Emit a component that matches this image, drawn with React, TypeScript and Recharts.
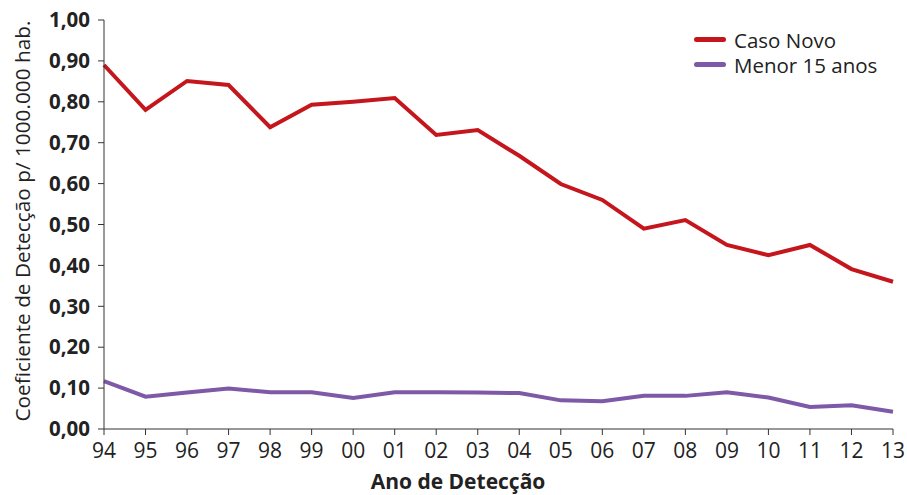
import { LineChart, Line, XAxis, YAxis } from 'recharts';

const YEARS = ['94', '95', '96', '97', '98', '99', '00', '01', '02', '03', '04', '05', '06', '07', '08', '09', '10', '11', '12', '13'];
const CASO_NOVO = [0.89, 0.78, 0.851, 0.841, 0.738, 0.793, 0.80, 0.809, 0.719, 0.731, 0.668, 0.599, 0.56, 0.49, 0.511, 0.45, 0.425, 0.45, 0.391, 0.36];
const MENOR_15 = [0.117, 0.079, 0.089, 0.099, 0.09, 0.09, 0.076, 0.09, 0.09, 0.089, 0.088, 0.07, 0.068, 0.081, 0.081, 0.09, 0.077, 0.054, 0.058, 0.042];
const Y_TICKS = [0, 0.1, 0.2, 0.3, 0.4, 0.5, 0.6, 0.7, 0.8, 0.9, 1.0];

const RED = '#c4161c';
const PURPLE = '#7d59a8';
const FONT = '"Open Sans", "Noto Sans", sans-serif';

const data = YEARS.map((year, i) => ({
  year,
  casoNovo: CASO_NOVO[i],
  menor15: MENOR_15[i]
}));

const SERIES = [
  { key: 'casoNovo', name: 'Caso Novo', color: RED },
  { key: 'menor15', name: 'Menor 15 anos', color: PURPLE }
];

// axis titles drawn by hand so they sit where the reference has them
const YTitle = () => (
  <text x={22} y={221} transform="rotate(-90 22 221)" textAnchor="middle" dominantBaseline="central"
    fill="#222" fontSize={20.8} fontFamily={FONT}>
    Coeficiente de Detecção p/ 1000.000 hab.
  </text>
);

const XTitle = () => (
  <text x={458} y={481} textAnchor="middle" dominantBaseline="central"
    fill="#222" fontSize={21} fontWeight={700} fontFamily={FONT}>
    Ano de Detecção
  </text>
);

export default function App() {
  // fixed to the viewport so the page never grows a scrollbar
  return (
    <div style={{ position: 'fixed', left: 0, top: 0, width: 907, height: 495, fontFamily: FONT, background: '#fff' }}>
      <LineChart width={907} height={495} data={data} margin={{ top: 20, right: 14, left: 0, bottom: 0 }}>
        <XAxis
          dataKey="year"
          interval={0}
          height={66}
          stroke="#333"
          tickSize={6}
          tickMargin={8}
          tick={{ fill: '#222', fontSize: 21, fontFamily: FONT }}
          label={<XTitle />}
        />
        <YAxis
          domain={[0, 1]}
          ticks={Y_TICKS}
          interval={0}
          width={104}
          stroke="#333"
          tickSize={6}
          tickMargin={8}
          tickFormatter={(v: number) => v.toFixed(2).replace('.', ',')}
          tick={{ fill: '#222', fontSize: 20.5, fontWeight: 700, fontFamily: FONT }}
          label={<YTitle />}
        />
        {SERIES.map((s) => (
          <Line key={s.key} type="linear" dataKey={s.key} name={s.name} stroke={s.color} strokeWidth={4} dot={false} isAnimationActive={false} />
        ))}
      </LineChart>

      {/* legend, top right */}
      <div style={{ position: 'absolute', left: 694, top: 27, fontSize: 20.5, lineHeight: '24px', color: '#222' }}>
        {SERIES.map((s) => (
          <div key={s.key} style={{ display: 'flex', alignItems: 'center', height: 25 }}>
            <span style={{ width: 32, height: 5, borderRadius: 3, background: s.color, marginRight: 8 }} />
            <span>{s.name}</span>
          </div>
        ))}
      </div>
    </div>
  );
}
